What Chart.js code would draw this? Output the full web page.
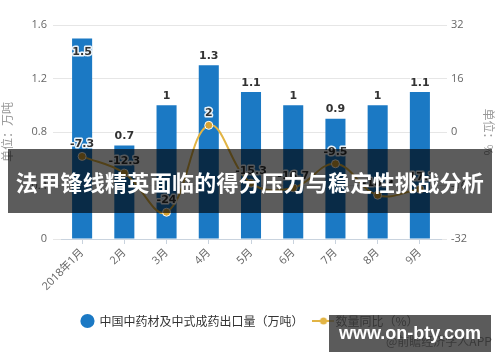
<!DOCTYPE html>
<html>
<head>
<meta charset="utf-8">
<script src="https://cdn.jsdelivr.net/npm/chart.js@4.4.0/dist/chart.umd.min.js"></script>
<style>
    html, body { margin: 0; padding: 0; background: #fff; }
    #wrap { position: relative; width: 500px; height: 362px; overflow: hidden; }
    #banner {
        position: absolute; left: 8px; top: 149px; width: 484px; height: 64px;
        background: rgba(0, 0, 0, 0.64); color: #fff;
        font: bold 22px "Noto Sans CJK SC", sans-serif;
        line-height: 64px; text-align: center; letter-spacing: 0.3px;
        white-space: nowrap;
    }
    #credit {
        position: absolute; left: 386px; top: 332px; white-space: nowrap;
        font: 12px "Noto Sans CJK SC", sans-serif; color: #444;
    }
    #site {
        position: absolute; left: 329px; top: 315px; width: 162px; height: 37px;
        background: rgba(55, 55, 55, 0.82); color: #fff; white-space: nowrap;
        font: bold 18px "Liberation Sans", sans-serif; line-height: 37px; text-align: center;
    }
</style>
</head>
<body>
<div id="wrap">
    <canvas id="chart" width="500" height="362"></canvas>
    <div id="banner">法甲锋线精英面临的得分压力与稳定性挑战分析</div>
    <div id="credit">@前瞻经济学人APP</div>
    <div id="site">www.on-bty.com</div>
</div>
<script>
// --- data ---
const months = ['2018年1月', '2月', '3月', '4月', '5月', '6月', '7月', '8月', '9月'];
const exportVolume = [1.5, 0.7, 1, 1.3, 1.1, 1, 0.9, 1, 1.1];
const yoyChange = [-7.3, -12.3, -24, 2, -15.3, -16.7, -9.5, -18.9, -17.1];
const leftTicks = [0, 0.4, 0.8, 1.2, 1.6];
const rightTicks = [-32, -16, 0, 16, 32];

const barColor = '#1b79c4';
const lineColor = '#e2b444';

// legend icon for line series (line + dot)
const lineIcon = document.createElement('canvas');
lineIcon.width = 22;
lineIcon.height = 10;
const ic = lineIcon.getContext('2d');
ic.strokeStyle = lineColor;
ic.lineWidth = 2;
ic.beginPath(); ic.moveTo(0, 5); ic.lineTo(22, 5); ic.stroke();
ic.fillStyle = lineColor;
ic.beginPath(); ic.arc(11, 5, 3.5, 0, Math.PI * 2); ic.fill();

// --- value labels on bars and points ---
const valueLabels = {
    id: 'valueLabels',
    afterDatasetsDraw(chart) {
        const c = chart.ctx;
        c.save();
        c.font = 'bold 11px "DejaVu Sans", sans-serif';
        c.textAlign = 'center';
        c.textBaseline = 'middle';
        c.lineJoin = 'round';
        chart.data.datasets.forEach((ds, i) => {
            const meta = chart.getDatasetMeta(i);
            meta.data.forEach((el, j) => {
                const v = ds.data[j];
                let y;
                if (ds.type === 'bar') {
                    y = el.y - 9;
                    if (y < chart.chartArea.top + 6) y = el.y + 14;
                } else {
                    y = el.y - 12;
                }
                const txt = String(v);
                c.lineWidth = 3;
                c.strokeStyle = 'rgba(255,255,255,0.9)';
                c.strokeText(txt, el.x, y);
                c.fillStyle = '#333';
                c.fillText(txt, el.x, y);
            });
        });
        c.restore();
    }
};

const tickFont = { family: '"Open Sans", "Noto Sans CJK SC", sans-serif', size: 11 };

new Chart(document.getElementById('chart'), {
    data: {
        labels: months,
        datasets: [
            {
                type: 'bar',
                label: '中国中药材及中式成药出口量（万吨）',
                data: exportVolume,
                backgroundColor: barColor,
                barPercentage: 0.5,
                categoryPercentage: 0.95,
                yAxisID: 'y',
                order: 2
            },
            {
                type: 'line',
                label: '数量同比（%）',
                data: yoyChange,
                borderColor: lineColor,
                borderWidth: 2,
                backgroundColor: '#d6a233',
                pointRadius: 4,
                pointBorderColor: '#fff',
                pointBorderWidth: 1,
                tension: 0.4,
                yAxisID: 'y1',
                order: 1
            }
        ]
    },
    options: {
        responsive: false,
        animation: false,
        layout: { padding: { top: 25, left: 0, right: 0, bottom: 25 } },
        plugins: {
            tooltip: { enabled: false },
            legend: {
                position: 'bottom',
                labels: {
                    usePointStyle: true,
                    boxHeight: 10,
                    padding: 14,
                    color: '#333',
                    font: { family: '"Noto Sans CJK SC", sans-serif', size: 12 },
                    sort: (a, b) => a.datasetIndex - b.datasetIndex,
                    generateLabels: (chart) => {
                        const items = Chart.defaults.plugins.legend.labels.generateLabels(chart);
                        items.forEach(it => {
                            if (it.datasetIndex === 1) {
                                it.pointStyle = lineIcon;
                            } else {
                                it.pointStyle = 'circle';
                                it.fillStyle = barColor;
                                it.strokeStyle = barColor;
                            }
                        });
                        return items;
                    }
                }
            }
        },
        scales: {
            x: {
                offset: true,
                afterFit: (s) => { s.height = 62; },
                grid: { display: true, offset: false, drawOnChartArea: false, tickLength: 5, color: '#c9d3de' },
                border: { color: '#c9d3de' },
                ticks: { color: '#666', font: tickFont, maxRotation: 45, minRotation: 45, padding: 2 }
            },
            y: {
                position: 'left',
                min: 0,
                max: 1.6,
                afterFit: (s) => { s.width = 61; },
                afterBuildTicks: (s) => { s.ticks = leftTicks.map(v => ({ value: v })); },
                grid: { color: '#e6e6e6', tickLength: 8 },
                border: { display: false },
                ticks: { color: '#666', font: tickFont, padding: 6 },
                title: {
                    display: true, text: '单位：万吨', color: '#999',
                    font: { family: '"Noto Sans CJK SC", sans-serif', size: 12 }, padding: { top: 0, bottom: 4 }
                }
            },
            y1: {
                position: 'right',
                min: -32,
                max: 32,
                afterFit: (s) => { s.width = 59; },
                afterBuildTicks: (s) => { s.ticks = rightTicks.map(v => ({ value: v })); },
                grid: { color: '#e6e6e6', drawOnChartArea: false, tickLength: 6 },
                border: { display: false },
                ticks: { color: '#666', font: tickFont, padding: 4 },
                title: {
                    display: true, text: '单位：%', color: '#999',
                    font: { family: '"Noto Sans CJK SC", sans-serif', size: 12 }, padding: { top: 4, bottom: 0 }
                }
            }
        }
    },
    plugins: [valueLabels]
});
</script>
</body>
</html>
